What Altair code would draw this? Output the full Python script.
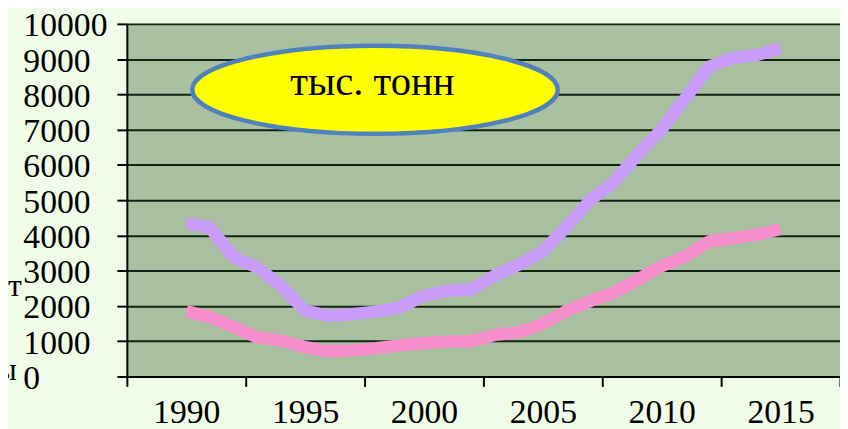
import altair as alt
import pandas as pd

# ---- data ----
years = list(range(1990, 2016))
series_violet = [4350, 4220, 3370, 3090, 2560, 1860, 1720, 1770, 1840, 1960,
                 2290, 2430, 2470, 2870, 3170, 3550, 4250, 5000, 5520, 6310,
                 7010, 7900, 8790, 9030, 9120, 9300]
series_pink = [1860, 1680, 1400, 1100, 1020, 830, 710, 740, 800, 880,
               950, 990, 1000, 1180, 1250, 1490, 1860, 2140, 2380, 2750,
               3130, 3410, 3830, 3920, 4020, 4180]
series_names = ["ряд 1", "ряд 2"]
y_ticks = list(range(0, 10001, 1000))
x_tick_positions = [1987.5 + 5 * i for i in range(7)]
unit_label = "тыс. тонн"
cut_labels = ["от", "ы"]

# annotation anchor (data coordinates)
ellipse_pos = {"x": [1997.94], "y": [8130]}
unit_pos = {"x": [1997.83], "y": [7990], "t": [unit_label]}

SERIF = "Liberation Serif"

df = pd.DataFrame({
    "year": years * 2,
    "value": series_violet + series_pink,
    "series": [series_names[0]] * len(years) + [series_names[1]] * len(years),
})

x_scale = alt.Scale(domain=[1987.5, 2017.5], nice=False, zero=False)
y_scale = alt.Scale(domain=[0, 10000], nice=False, zero=True)

x_axis = alt.Axis(
    values=x_tick_positions, title=None, grid=False,
    labelExpr="datum.value < 2015 ? format(datum.value + 2.5, 'd') : ''",
    labelOffset=60, labelFlush=False, labelOverlap=False, labelBound=False,
    tickSize=10, labelPadding=9, labelFont=SERIF,
)
y_axis = alt.Axis(
    values=y_ticks, title=None, grid=True, format="d",
    tickSize=10, labelPadding=95, labelAlign="left", labelFont=SERIF,
    labelFlush=False, labelOverlap=False, labelBound=False, labelOffset=2,
)

lines = alt.Chart(df).mark_line(
    strokeWidth=12.5, strokeCap="butt", strokeJoin="bevel"
).encode(
    x=alt.X("year:Q", scale=x_scale, axis=x_axis),
    y=alt.Y("value:Q", scale=y_scale, axis=y_axis),
    color=alt.Color("series:N",
                    scale=alt.Scale(domain=series_names, range=["#C99CFA", "#F68FCB"]),
                    legend=None),
)

k = 0.5523
ry = 0.241
ellipse_path = (
    f"M -1 0 C -1 {-k*ry:.4f} {-k:.4f} {-ry} 0 {-ry} "
    f"C {k:.4f} {-ry} 1 {-k*ry:.4f} 1 0 "
    f"C 1 {k*ry:.4f} {k:.4f} {ry} 0 {ry} "
    f"C {-k:.4f} {ry} -1 {k*ry:.4f} -1 0 Z"
)

ellipse = alt.Chart(pd.DataFrame(ellipse_pos)).mark_point(
    shape=ellipse_path, size=369 * 369, filled=True, fill="#FFFF00",
    stroke="#4F81BD", strokeWidth=4.5, opacity=1, fillOpacity=1, strokeOpacity=1,
).encode(
    x=alt.X("x:Q", scale=x_scale, axis=x_axis),
    y=alt.Y("y:Q", scale=y_scale, axis=y_axis),
)

unit_text = alt.Chart(pd.DataFrame(unit_pos)).mark_text(
    font=SERIF, fontSize=41, color="black",
    align="center", baseline="alphabetic",
).encode(
    x=alt.X("x:Q", scale=x_scale, axis=x_axis),
    y=alt.Y("y:Q", scale=y_scale, axis=y_axis),
    text="t:N",
)

cut1 = alt.Chart(pd.DataFrame({"t": [cut_labels[0]]})).mark_text(
    font=SERIF, fontSize=32, color="black",
    align="right", baseline="alphabetic",
).encode(x=alt.value(-106), y=alt.value(275), text="t:N")

cut2 = alt.Chart(pd.DataFrame({"t": [cut_labels[1]]})).mark_text(
    font=SERIF, fontSize=32, color="black",
    align="right", baseline="alphabetic",
).encode(x=alt.value(-111), y=alt.value(360), text="t:N")

chart = alt.layer(lines, ellipse, unit_text, cut1, cut2).properties(
    width=720, height=356,
    background="#F0FCE8",
    autosize=alt.AutoSizeParams(type="none"),
    padding={"left": 120, "top": 14, "right": 0, "bottom": 51},
).configure_view(
    fill="#A9C1A0", strokeWidth=0,
).configure_axis(
    domainColor="black", domainWidth=2,
    tickColor="black", tickWidth=2,
    gridColor="#132413", gridWidth=2,
    labelFontSize=34, labelColor="black",
)

chart.save("out.html", embed_options={"renderer": "svg", "actions": False})
